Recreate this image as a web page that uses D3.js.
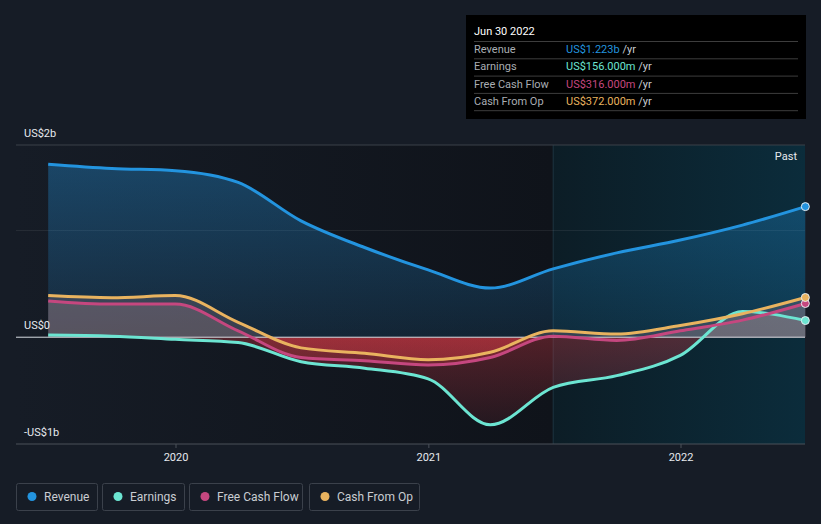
<!DOCTYPE html>
<html>
<head>
<meta charset="utf-8">
<script src="https://cdn.jsdelivr.net/npm/d3@7"></script>
<style>
  body { margin: 0; background: #161c26; font-family: Roboto, "Noto Sans", sans-serif; }
  svg { display: block; }
</style>
</head>
<body>
<svg id="chart" width="821" height="524"></svg>
<script>
// quarterly trailing values, in US$ billions
let dates = ["2019-06-30","2019-09-30","2019-12-31","2020-03-31","2020-06-30","2020-09-30","2020-12-31",
             "2021-03-31","2021-06-30","2021-09-30","2021-12-31","2022-03-31","2022-06-30"];
let revenue  = [1.62, 1.58, 1.56, 1.45, 1.09, 0.84, 0.63, 0.46, 0.64, 0.79, 0.91, 1.05, 1.223];
let earnings = [0.02, 0.01, -0.02, -0.05, -0.23, -0.29, -0.39, -0.82, -0.47, -0.36, -0.17, 0.24, 0.156];
let fcf      = [0.34, 0.31, 0.31, 0.06, -0.19, -0.22, -0.26, -0.19, 0.01, -0.03, 0.06, 0.16, 0.316];
let cfo      = [0.39, 0.37, 0.39, 0.14, -0.10, -0.15, -0.21, -0.14, 0.06, 0.03, 0.11, 0.22, 0.372];

let yearTicks = ["2020", "2021", "2022"];
let yTickValues = [-1, 0, 1.8];
let yTickLabels = ["-US$1b", "US$0", "US$2b"];

let seriesNames = ["Revenue", "Earnings", "Free Cash Flow", "Cash From Op"];
let seriesColors = ["#2394df", "#6ce5d2", "#c5477f", "#e9b35f"];
let tooltipValues = ["US$1.223b", "US$156.000m", "US$316.000m", "US$372.000m"];

let parse = d3.timeParse("%Y-%m-%d");
let xDates = dates.map(parse);

let svg = d3.select("#chart");
let plotLeft = 16, plotRight = 805, plotTop = 145, plotBottom = 444;

let x = d3.scaleTime()
    .domain([parse("2020-01-01"), parse("2022-01-01")])
    .range([176, 681]);
let y = d3.scaleLinear().domain([-1, 1.8]).range([plotBottom, plotTop]);

let defs = svg.append("defs");

// darker plot background
let bgGrad = defs.append("linearGradient").attr("id", "bgGrad");
bgGrad.append("stop").attr("offset", "0%").attr("stop-color", "#161c26");
bgGrad.append("stop").attr("offset", "100%").attr("stop-color", "#0f131a");
svg.append("rect").attr("x", plotLeft).attr("y", plotTop).attr("width", x(parse("2021-06-30")) - plotLeft)
    .attr("height", plotBottom - plotTop).attr("fill", "url(#bgGrad)");

// past region
let pastGrad = defs.append("linearGradient").attr("id", "pastGrad");
pastGrad.append("stop").attr("offset", "0%").attr("stop-color", "#0c1d26");
pastGrad.append("stop").attr("offset", "100%").attr("stop-color", "#0b2c3b");
let pastX = x(parse("2021-06-30"));
svg.append("rect").attr("x", pastX).attr("y", plotTop).attr("width", plotRight - pastX)
    .attr("height", plotBottom - plotTop).attr("fill", "url(#pastGrad)");
svg.append("line").attr("x1", pastX).attr("x2", pastX).attr("y1", plotTop).attr("y2", plotBottom)
    .attr("stroke", "#1c3440").attr("stroke-width", 1);

// gridlines
svg.append("line").attr("x1", plotLeft).attr("x2", plotRight).attr("y1", y(1.8)).attr("y2", y(1.8))
    .attr("stroke", "#3a4049");
svg.append("line").attr("x1", plotLeft).attr("x2", plotRight).attr("y1", y(1)).attr("y2", y(1))
    .attr("stroke", "#ffffff").attr("stroke-opacity", 0.08);

let curve = d3.curveMonotoneX;

// revenue area
let revGrad = defs.append("linearGradient").attr("id", "revGrad")
    .attr("x1", 0).attr("x2", 0).attr("y1", 0).attr("y2", 1);
revGrad.append("stop").attr("offset", "0%").attr("stop-color", "#2394df").attr("stop-opacity", 0.35);
revGrad.append("stop").attr("offset", "100%").attr("stop-color", "#2394df").attr("stop-opacity", 0.12);

let area = function(vals) {
    return d3.area().curve(curve)
        .x((d, i) => x(xDates[i]))
        .y0(y(0))
        .y1(d => y(d))(vals);
};
let line = function(vals) {
    return d3.line().curve(curve)
        .x((d, i) => x(xDates[i]))
        .y(d => y(d))(vals);
};

svg.append("path").attr("d", area(revenue)).attr("fill", "url(#revGrad)");

// clip for positive / negative parts
defs.append("clipPath").attr("id", "posClip").append("rect")
    .attr("x", 0).attr("y", 0).attr("width", 821).attr("height", y(0));
defs.append("clipPath").attr("id", "negClip").append("rect")
    .attr("x", 0).attr("y", y(0)).attr("width", 821).attr("height", 200);

let negGrad = defs.append("linearGradient").attr("id", "negGrad")
    .attr("gradientUnits", "userSpaceOnUse")
    .attr("x1", 0).attr("x2", 0).attr("y1", y(0)).attr("y2", y(-0.9));
negGrad.append("stop").attr("offset", "0%").attr("stop-color", "#d83a45").attr("stop-opacity", 0.33);
negGrad.append("stop").attr("offset", "100%").attr("stop-color", "#d83a45").attr("stop-opacity", 0.08);

[earnings, fcf, cfo].forEach(function(vals) {
    svg.append("path").attr("d", area(vals)).attr("clip-path", "url(#posClip)")
        .attr("fill", "#e8b0b0").attr("fill-opacity", 0.17);
    svg.append("path").attr("d", area(vals)).attr("clip-path", "url(#negClip)")
        .attr("fill", "url(#negGrad)");
});

// zero line
svg.append("line").attr("x1", plotLeft).attr("x2", plotRight).attr("y1", y(0)).attr("y2", y(0))
    .attr("stroke", "#d8dde3").attr("stroke-width", 1);

// lines
let allSeries = [revenue, earnings, fcf, cfo];
[earnings, fcf, cfo, revenue].forEach(function(vals) {
    let k = allSeries.indexOf(vals);
    svg.append("path").attr("d", line(vals)).attr("fill", "none")
        .attr("stroke", seriesColors[k]).attr("stroke-width", 3);
});
[earnings, fcf, cfo, revenue].forEach(function(vals) {
    let k = allSeries.indexOf(vals);
    svg.append("circle").attr("cx", x(xDates[xDates.length - 1])).attr("cy", y(vals[vals.length - 1]))
        .attr("r", 4).attr("fill", seriesColors[k]).attr("stroke", "#e6eef2").attr("stroke-width", 1);
});

// bottom axis
svg.append("line").attr("x1", plotLeft).attr("x2", plotRight).attr("y1", plotBottom).attr("y2", plotBottom)
    .attr("stroke", "#4a5059");
yearTicks.forEach(function(t) {
    let tx = x(parse(t + "-01-01"));
    svg.append("line").attr("x1", tx).attr("x2", tx).attr("y1", plotBottom).attr("y2", plotBottom + 4)
        .attr("stroke", "#4a5059");
    svg.append("text").attr("x", tx).attr("y", plotBottom + 17).attr("text-anchor", "middle")
        .attr("fill", "#e6e9ee").attr("font-size", 11).text(t);
});

// y labels
yTickValues.forEach(function(v, i) {
    svg.append("text").attr("x", 24).attr("y", y(v) - 8)
        .attr("fill", "#e6e9ee").attr("font-size", 11).text(yTickLabels[i]);
});

svg.append("text").attr("x", 797).attr("y", 160).attr("text-anchor", "end")
    .attr("fill", "#e6e9ee").attr("font-size", 11).text("Past");

// tooltip
let tip = svg.append("g").attr("transform", "translate(466,15)");
tip.append("rect").attr("width", 340).attr("height", 104).attr("fill", "#000");
tip.append("text").attr("x", 8).attr("y", 20).attr("fill", "#fff").attr("font-size", 11).text("Jun 30 2022");
seriesNames.forEach(function(name, i) {
    let ry = 26.5 + i * 17.3;
    tip.append("line").attr("x1", 8).attr("x2", 332).attr("y1", ry).attr("y2", ry)
        .attr("stroke", "#3d3d3d");
    tip.append("text").attr("x", 8).attr("y", ry + 11.5).attr("fill", "#a9adb3")
        .attr("font-size", 11).text(name);
    let t = tip.append("text").attr("x", 100).attr("y", ry + 11.5).attr("font-size", 11);
    t.append("tspan").attr("fill", seriesColors[i]).text(tooltipValues[i]);
    t.append("tspan").attr("fill", "#c9cdd2").text(" /yr");
});
tip.append("line").attr("x1", 8).attr("x2", 332).attr("y1", 26.5 + 4 * 17.3).attr("y2", 26.5 + 4 * 17.3)
    .attr("stroke", "#3d3d3d");

// legend
let legendX = [16, 102, 189, 309];
let legendW = [81, 82, 113, 110];
seriesNames.forEach(function(name, i) {
    let g = svg.append("g").attr("transform", "translate(" + legendX[i] + ",483)");
    g.append("rect").attr("x", 0.5).attr("y", 0.5).attr("width", legendW[i]).attr("height", 27)
        .attr("rx", 2).attr("fill", "none").attr("stroke", "#3b414b");
    g.append("circle").attr("cx", 16).attr("cy", 13.5).attr("r", 4.5).attr("fill", seriesColors[i]);
    g.append("text").attr("x", 28).attr("y", 18).attr("fill", "#c9cdd2").attr("font-size", 12).text(name);
});
</script>
</body>
</html>
